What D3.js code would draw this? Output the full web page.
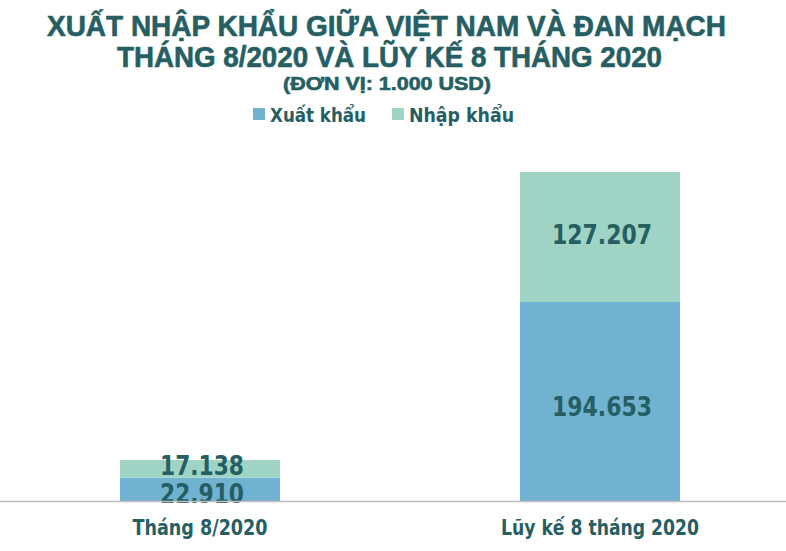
<!DOCTYPE html>
<html>
<head>
<meta charset="utf-8">
<script src="https://cdn.jsdelivr.net/npm/d3@7"></script>
<style>
  body { margin: 0; background: #fff; }
  text { font-weight: bold; fill: #255E63; }
  .title { font-family: "Liberation Sans", Arial, sans-serif; stroke: #255E63; stroke-width: 0.6px; }
  .lbl { font-family: "DejaVu Sans", sans-serif; }
</style>
</head>
<body>
<div id="chart"></div>
<script>
// data
var categories = ["Tháng 8/2020", "Lũy kế 8 tháng 2020"];
var seriesNames = ["Xuất khẩu", "Nhập khẩu"];
var exportValues = [22.910, 194.653];
var importValues = [17.138, 127.207];
var valueLabels = [["22.910", "194.653"], ["17.138", "127.207"]];
var titleLines = ["XUẤT NHẬP KHẨU GIỮA VIỆT NAM VÀ ĐAN MẠCH", "THÁNG 8/2020 VÀ LŨY KẾ 8 THÁNG 2020", "(ĐƠN VỊ: 1.000 USD)"];

var W = 786, H = 551;
var colors = ["#70B2D0", "#9FD3C3"];

var svg = d3.select("#chart").append("svg")
  .attr("width", W).attr("height", H);

// title
var tPos = [{x: 386.5, y: 36, w: 679, fs: 29}, {x: 389.5, y: 67, w: 545, fs: 29}, {x: 387, y: 90, w: 208, fs: 18}];
svg.selectAll(".title")
  .data(titleLines)
  .enter().append("text")
  .attr("class", "title")
  .attr("x", (d, i) => tPos[i].x)
  .attr("y", (d, i) => tPos[i].y)
  .attr("text-anchor", "middle")
  .attr("font-size", (d, i) => tPos[i].fs + "px")
  .attr("textLength", (d, i) => tPos[i].w)
  .attr("lengthAdjust", "spacingAndGlyphs")
  .text(d => d);

// legend
var legend = svg.append("g");
var legX = [253, 392], legW = [96, 105];
seriesNames.forEach(function(s, i) {
  legend.append("rect")
    .attr("x", legX[i]).attr("y", 108)
    .attr("width", 12).attr("height", 12)
    .attr("fill", colors[i]);
  legend.append("text")
    .attr("class", "lbl")
    .attr("x", legX[i] + 17).attr("y", 122)
    .attr("font-size", "19px")
    .attr("textLength", legW[i])
    .attr("lengthAdjust", "spacingAndGlyphs")
    .text(s);
});

// stacked data
var rows = categories.map((c, i) => ({cat: c, exp: exportValues[i], imp: importValues[i]}));
var stack = d3.stack().keys(["exp", "imp"]);
var series = stack(rows);

var x = d3.scaleBand()
  .domain(categories)
  .range([0, 800])
  .paddingInner(0.6)
  .paddingOuter(0.3);

var y = d3.scaleLinear()
  .domain([0, 321.86])
  .range([501, 172]);

var g = svg.append("g");

g.selectAll(".layer")
  .data(series)
  .enter().append("g")
  .attr("fill", (d, i) => colors[i])
  .selectAll("rect")
  .data(d => d)
  .enter().append("rect")
  .attr("x", d => x(d.data.cat))
  .attr("width", x.bandwidth())
  .attr("y", d => y(d[1]))
  .attr("height", d => y(d[0]) - y(d[1]));

// value labels
var lblOffset = [14, 6.5];
series.forEach(function(layer, li) {
  g.selectAll(".val" + li)
    .data(layer)
    .enter().append("text")
    .attr("class", "lbl")
    .attr("x", d => x(d.data.cat) + x.bandwidth() / 2 + 2)
    .attr("y", d => (y(d[0]) + y(d[1])) / 2 + lblOffset[li])
    .attr("text-anchor", "middle")
    .attr("font-size", "27px")
    .attr("textLength", (d, i) => i == 0 ? 84 : 100)
    .attr("lengthAdjust", "spacingAndGlyphs")
    .text((d, i) => valueLabels[li][i]);
});

// baseline
svg.append("line")
  .attr("x1", 0).attr("x2", W)
  .attr("y1", y(0) + 0.5).attr("y2", y(0) + 0.5)
  .attr("stroke", "#BFBFBF").attr("stroke-width", 1.5);

// x axis labels
var xAxis = d3.axisBottom(x).tickSize(0).tickPadding(18);
var catW = [135, 198];
svg.append("g")
  .attr("transform", "translate(0," + y(0) + ")")
  .call(xAxis)
  .call(a => a.select(".domain").remove())
  .selectAll("text")
  .attr("class", "lbl")
  .attr("y", 34)
  .attr("dy", null)
  .attr("font-size", "21px")
  .attr("textLength", (d, i) => catW[i])
  .attr("lengthAdjust", "spacingAndGlyphs")
  .attr("fill", "#255E63");
</script>
</body>
</html>
